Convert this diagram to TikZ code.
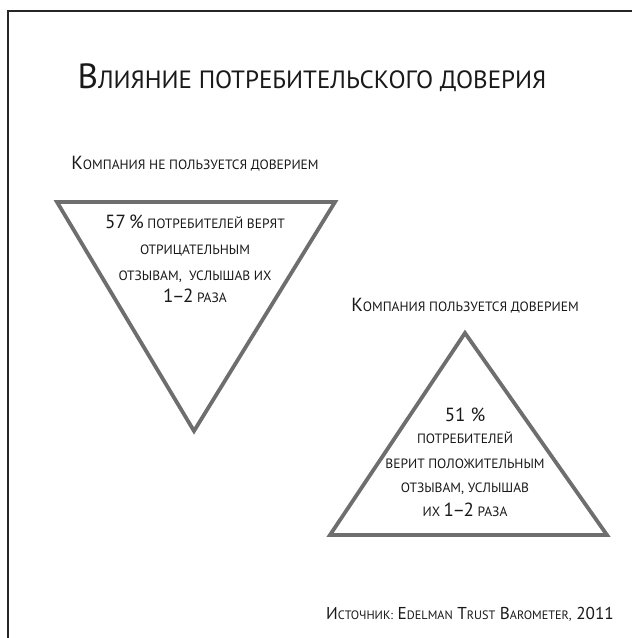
\documentclass[tikz,border=0pt]{standalone}
\usepackage{fontspec}
\setmainfont{PT Sans}
\definecolor{trigray}{HTML}{6E6E6E}
\newcommand\Bg[1]{{\fontsize{19}{19}\selectfont #1}}
\newcommand\Sm[1]{{\fontsize{13.5}{13.5}\selectfont #1}}
\newcommand\dsh{\kern-1.5pt–\kern-1.5pt}
\begin{document}
\begin{tikzpicture}[x=1pt,y=-1pt,
  tri/.style={draw=trigray,line width=3.8pt,line join=miter},
  frame/.style={draw=black!85,line width=1.6pt},
  lbl/.style={inner sep=0pt,anchor=base,text=black!90},
  body/.style={inner sep=0pt,anchor=base,align=center,text=black!90}]
\useasboundingbox (0,0) rectangle (632,638);
\coordinate (fa) at (632,10.8);
\coordinate (fb) at (7.8,10.8);
\coordinate (fc) at (7.8,638);
\draw[frame] (fa) -- (fb) -- (fc);
% title
\node[lbl] (title) at (312,88) {{\fontsize{35}{35}\selectfont В}{\fontsize{25}{25}\selectfont ЛИЯНИЕ ПОТРЕБИТЕЛЬСКОГО ДОВЕРИЯ}};
% left triangle
\coordinate (t1l) at (57,202);
\coordinate (t1r) at (335,202);
\coordinate (t1b) at (194,431);
\draw[tri] (t1l) -- (t1r) -- (t1b) -- cycle;
\node[lbl] (sub1) at (195,169) {\Bg{К}\Sm{ОМПАНИЯ НЕ ПОЛЬЗУЕТСЯ ДОВЕРИЕМ}};
\node[body,font=\fontsize{13.5}{26}\selectfont] (txt1) at (195,302) {\Bg{57\,\%} \Sm{ПОТРЕБИТЕЛЕЙ ВЕРЯТ}\\\Sm{ОТРИЦАТЕЛЬНЫМ}\\\Sm{ОТЗЫВАМ,\ \ УСЛЫШАВ ИХ}\\[-4pt]\Bg{1\dsh 2} \Sm{РАЗА}};
% right triangle
\coordinate (t2t) at (465,333);
\coordinate (t2l) at (330,535);
\coordinate (t2r) at (607,535);
\draw[tri] (t2t) -- (t2r) -- (t2l) -- cycle;
\node[lbl] (sub2) at (465,311) {\Bg{К}\Sm{ОМПАНИЯ ПОЛЬЗУЕТСЯ ДОВЕРИЕМ}};
\node[body,font=\fontsize{13.5}{24}\selectfont] (txt2) at (465,516) {\Bg{51 \%}\\[-2pt]\Sm{ПОТРЕБИТЕЛЕЙ}\\[1pt]\Sm{ВЕРИТ ПОЛОЖИТЕЛЬНЫМ}\\\Sm{ОТЗЫВАМ, УСЛЫШАВ}\\\Sm{ИХ} \Bg{1\dsh 2} \Sm{РАЗА}};
% source
\node[lbl] (src) at (470,619) {\fontsize{17.2}{17.2}\selectfont И{\fontsize{12.2}{12.2}\selectfont СТОЧНИК:} E{\fontsize{12.2}{12.2}\selectfont DELMAN} T{\fontsize{12.2}{12.2}\selectfont RUST} B{\fontsize{12.2}{12.2}\selectfont AROMETER,} 2011};
\end{tikzpicture}
\end{document}
